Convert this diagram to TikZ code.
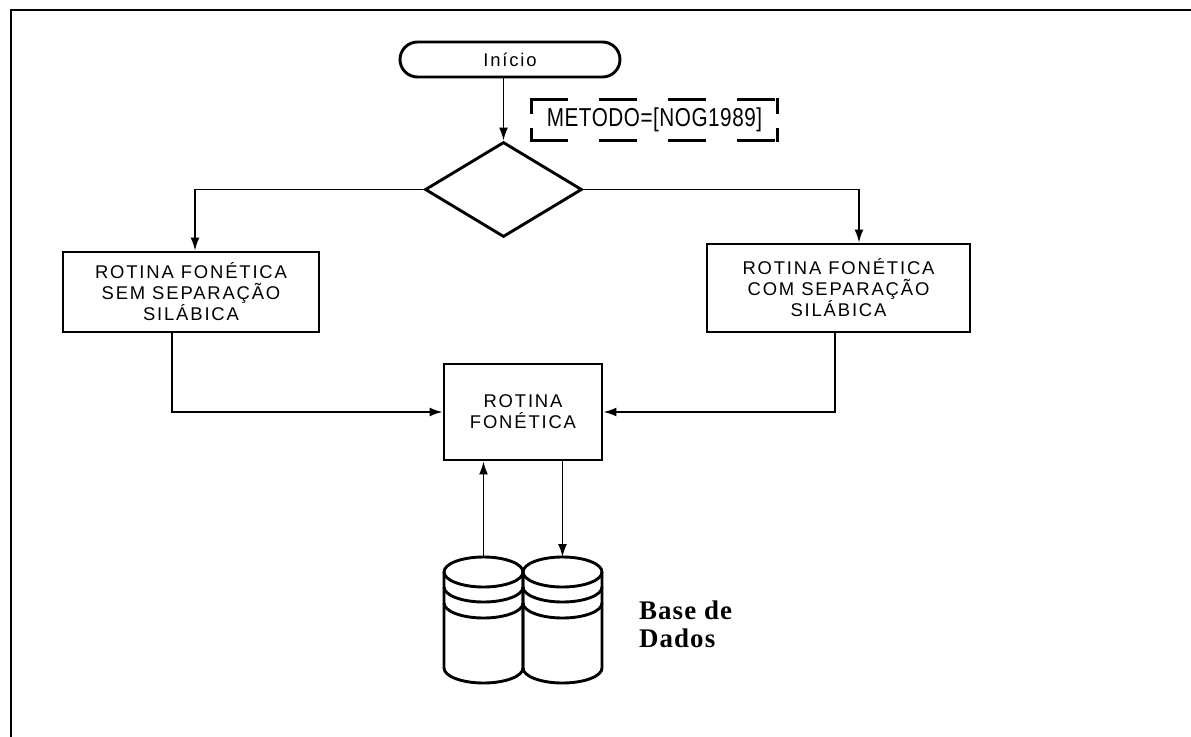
\documentclass[tikz,border=0pt]{standalone}
\usepackage{fontspec}
\setmainfont{Liberation Sans}
\newfontfamily\labelfont[LetterSpace=10]{Liberation Sans}
\newfontfamily\condfont[FakeStretch=0.8,LetterSpace=2]{Liberation Sans}
\newfontfamily\serifface[LetterSpace=4]{Liberation Serif}
\usetikzlibrary{arrows.meta,shapes.geometric,shapes.misc}

\begin{document}
\begin{tikzpicture}[x=1bp,y=-1bp,
  thickline/.style={line width=2.9bp},
  proc/.style={draw, thickline, align=center, inner sep=0pt,
    font=\labelfont\fontsize{18.5}{21}\selectfont},
  terminal/.style={draw, thickline, rounded rectangle, inner sep=0pt,
    font=\labelfont\fontsize{18.5}{21}\selectfont},
  notebox/.style={inner sep=0pt, font=\condfont\fontsize{26}{26}\selectfont},
  noteedge/.style={thickline, line cap=rect},
  link/.style={line width=1.7bp, -{Latex[length=13bp,width=9bp]}},
  cyl/.style={thickline, line join=round}]

\useasboundingbox (0,0) rectangle (1191,737);

% outer frame
\draw[line width=2.2bp] (11,737) -- (11,10) -- (1191,10);

% flow nodes
\node[terminal, minimum width=220bp, minimum height=35bp] (start) at (510,59.5) {Início};
\node[notebox, minimum width=245bp, minimum height=40bp] (method) at (654.5,120) {METODO=[NOG1989]};
\node[draw, thickline, diamond, inner sep=0pt, minimum width=157bp, minimum height=95bp] (dec) at (503.5,189.5) {};
\node[proc, minimum width=256bp, minimum height=80bp] (lbox) at (191,292)
  {ROTINA FONÉTICA\\SEM SEPARAÇÃO\\SILÁBICA};
\node[proc, minimum width=263bp, minimum height=88bp] (rbox) at (838.5,288)
  {ROTINA FONÉTICA\\COM SEPARAÇÃO\\SILÁBICA};
\node[proc, minimum width=158bp, minimum height=96bp] (cbox) at (523,412)
  {ROTINA\\FONÉTICA};

% dashed frame of the method note
\draw[noteedge, dash pattern=on 35bp off 34bp] (method.north west) -- (method.north east);
\draw[noteedge, dash pattern=on 35bp off 34bp] (method.south west) -- (method.south east);
\draw[noteedge, dash pattern=on 12.5bp off 17.5bp] (method.north west) -- (method.south west);
\draw[noteedge, dash pattern=on 12.5bp off 17.5bp] (method.north east) -- (method.south east);

% database: two stacked-disk cylinders
\foreach \cx in {483.5,562.5} {
  \draw[cyl] (\cx,572) ellipse [x radius=39.5bp, y radius=15bp];
  \draw[cyl] (\cx-39.5,572) -- (\cx-39.5,668)
    arc[start angle=180, end angle=360, x radius=39.5bp, y radius=15bp] -- (\cx+39.5,572);
  \draw[cyl] (\cx-39.5,587) arc[start angle=180, end angle=360, x radius=39.5bp, y radius=15bp];
  \draw[cyl] (\cx-39.5,603) arc[start angle=180, end angle=360, x radius=39.5bp, y radius=15bp];
}
\coordinate (db1top) at (483.5,557);
\coordinate (db2top) at (562.5,557);

\node[anchor=north west, inner sep=0pt, align=left,
  font=\serifface\bfseries\fontsize{27}{28}\selectfont] (dblabel) at (639,601) {Base de\\Dados};

% connectors
\draw[link] (start.south -| dec.north) -- (dec.north);
\draw[link] (dec.west) -| ([xshift=4bp]lbox.north);
\draw[link] (dec.east) -| ([xshift=20.5bp]rbox.north);
\draw[link] ([xshift=-19bp]lbox.south) |- (cbox.west);
\draw[link] ([xshift=-3.5bp]rbox.south) |- (cbox.east);
\draw[link] (db1top) -- (db1top |- cbox.south);
\draw[link] (cbox.south -| db2top) -- (db2top);

\end{tikzpicture}
\end{document}
